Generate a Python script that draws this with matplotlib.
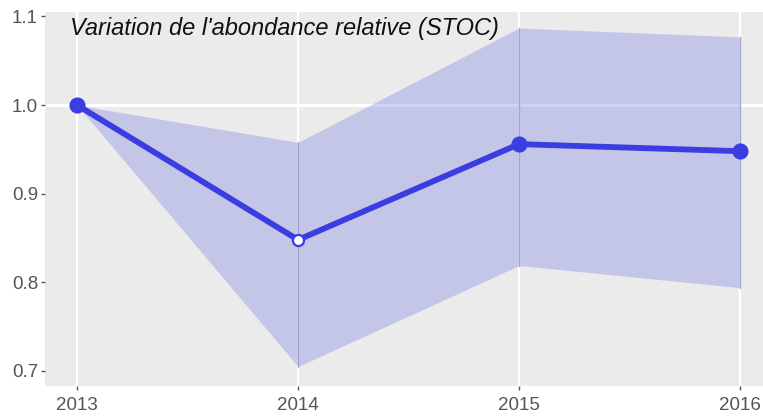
import matplotlib
matplotlib.use("Agg")
import matplotlib.pyplot as plt

plt.rcParams.update({"font.family": ["Liberation Sans", "DejaVu Sans"]})

years = [2013, 2014, 2015, 2016]
abundance = [1.0, 0.848, 0.956, 0.948]
upper = [1.0, 0.958, 1.087, 1.077]
lower = [1.0, 0.705, 0.819, 0.794]
filled = [True, False, True, True]

BLUE = "#3a3de0"

fig = plt.figure(figsize=(7.63, 4.16), dpi=100)
ax = fig.add_axes([0.059, 0.072, 0.941, 0.899])
ax.set_facecolor("#ebebeb")
for s in ax.spines.values():
    s.set_visible(False)

ax.set_xlim(2012.855, 2016.104)
ax.set_ylim(0.683, 1.105)

# white grid: vertical at years, horizontal reference at 1.0
for x in years:
    ax.axvline(x, color="white", lw=1.6, zorder=1)
ax.axhline(1.0, color="white", lw=2.2, zorder=1)

ax.fill_between(years, lower, upper, color="#959ae6", alpha=0.45, lw=0, zorder=2)
for x, lo, hi in zip(years[1:], lower[1:], upper[1:]):
    ax.plot([x, x], [lo, hi], color="#a3a3c4", lw=0.9, zorder=2.5)

ax.plot(years, abundance, color=BLUE, lw=4.2, zorder=3, solid_capstyle="round")
for x, y, f in zip(years, abundance, filled):
    ax.plot(x, y, "o", ms=10 if f else 8, mfc=BLUE if f else "white",
            mec=BLUE, mew=1.6, zorder=4)

ax.set_xticks(years)
ax.set_xticklabels([str(y) for y in years])
ax.set_yticks([0.7, 0.8, 0.9, 1.0, 1.1])
ax.set_yticklabels(["0.7", "0.8", "0.9", "1.0", "1.1"])
ax.tick_params(colors="#555555", labelcolor="#555555", labelsize=13.5,
               length=3, width=1)
ax.tick_params(axis="x", pad=5)
ax.tick_params(axis="y", pad=2)

ax.text(0.035, 0.987, "Variation de l'abondance relative (STOC)", transform=ax.transAxes,
        ha="left", va="top", fontsize=17, style="italic", color="#111111", zorder=5)

fig.savefig("out.png", dpi=100)
